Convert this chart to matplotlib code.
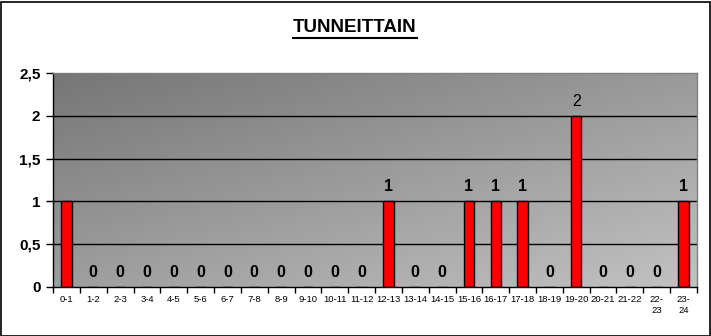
import matplotlib
matplotlib.use("Agg")
import matplotlib.pyplot as plt
import numpy as np
from matplotlib.patches import Rectangle
from matplotlib.lines import Line2D

categories = ["0-1", "1-2", "2-3", "3-4", "4-5", "5-6", "6-7", "7-8", "8-9", "9-10",
              "10-11", "11-12", "12-13", "13-14", "14-15", "15-16", "16-17", "17-18",
              "18-19", "19-20", "20-21", "21-22", "22-\n23", "23-\n24"]
values = [1, 0, 0, 0, 0, 0, 0, 0, 0, 0, 0, 0, 1, 0, 0, 1, 1, 1, 0, 2, 0, 0, 0, 1]
show_label = [False] + [True] * 23
yticks = [0, 0.5, 1, 1.5, 2, 2.5]
ytick_labels = ["0", "0,5", "1", "1,5", "2", "2,5"]
title = "TUNNEITTAIN"

plt.rcParams['font.family'] = ['Liberation Sans', 'DejaVu Sans']

fig = plt.figure(figsize=(7.11, 3.36), dpi=100)
ax = fig.add_axes([53/711, 1-287/336, (697-53)/711, (287-73)/336])

n = len(categories)
x = np.arange(n)
ax.set_xlim(-0.5, n-0.5)
ax.set_ylim(0, 2.5)

# gradient background (dark top-left -> light bottom-right)
gx, gy = np.meshgrid(np.linspace(0, 1, 300), np.linspace(0, 1, 150))
g = (118 + 36 * gx + 40 * gy) / 255.0
img = np.dstack([g, g, g])
ax.imshow(img, extent=[0, 1, 0, 1], transform=ax.transAxes, aspect='auto',
          origin='upper', zorder=0, interpolation='bilinear')

for yv in yticks[1:5]:
    ax.axhline(yv, color='black', lw=1, zorder=1)

ax.bar(x, values, width=0.38, color='#ff0000', edgecolor='black', lw=1, zorder=2)

for xi, v, s in zip(x, values, show_label):
    if not s:
        continue
    ax.annotate(str(v), (xi, v), xytext=(0, 5), textcoords='offset points',
                ha='center', va='bottom', fontsize=11.5,
                fontweight='normal' if v == 2 else 'bold', zorder=3)

ax.set_yticks(yticks)
ax.set_yticklabels(ytick_labels, fontsize=11, fontweight='bold')
ax.set_xticks(x)
ax.set_xticklabels(categories, fontsize=6.8, linespacing=1.3)
ax.set_xticks(np.arange(-0.5, n, 1), minor=True)
ax.tick_params(axis='x', which='major', length=0, pad=6)
ax.tick_params(axis='x', which='minor', length=4, width=1, direction='out')
ax.tick_params(axis='y', length=5, width=1, direction='out', pad=4)

for s in ['left', 'bottom']:
    ax.spines[s].set_color('black')
    ax.spines[s].set_linewidth(1)
for s in ['top', 'right']:
    ax.spines[s].set_color('#808080')
    ax.spines[s].set_linewidth(1)

t = fig.text(355/711, 1-28/336, title, ha='center', va='center', fontsize=13.5, fontweight='bold')
fig.canvas.draw()
bb = t.get_window_extent()
yline = bb.y0 - 1
fig.add_artist(Line2D([bb.x0/711, bb.x1/711], [yline/336, yline/336], color='black', lw=1.5))

fig.add_artist(Rectangle((0.5/711, 0.5/336), 709/711, 334/336, transform=fig.transFigure,
                         fill=False, edgecolor='black', lw=1.2))

fig.savefig("out.png", dpi=100)
